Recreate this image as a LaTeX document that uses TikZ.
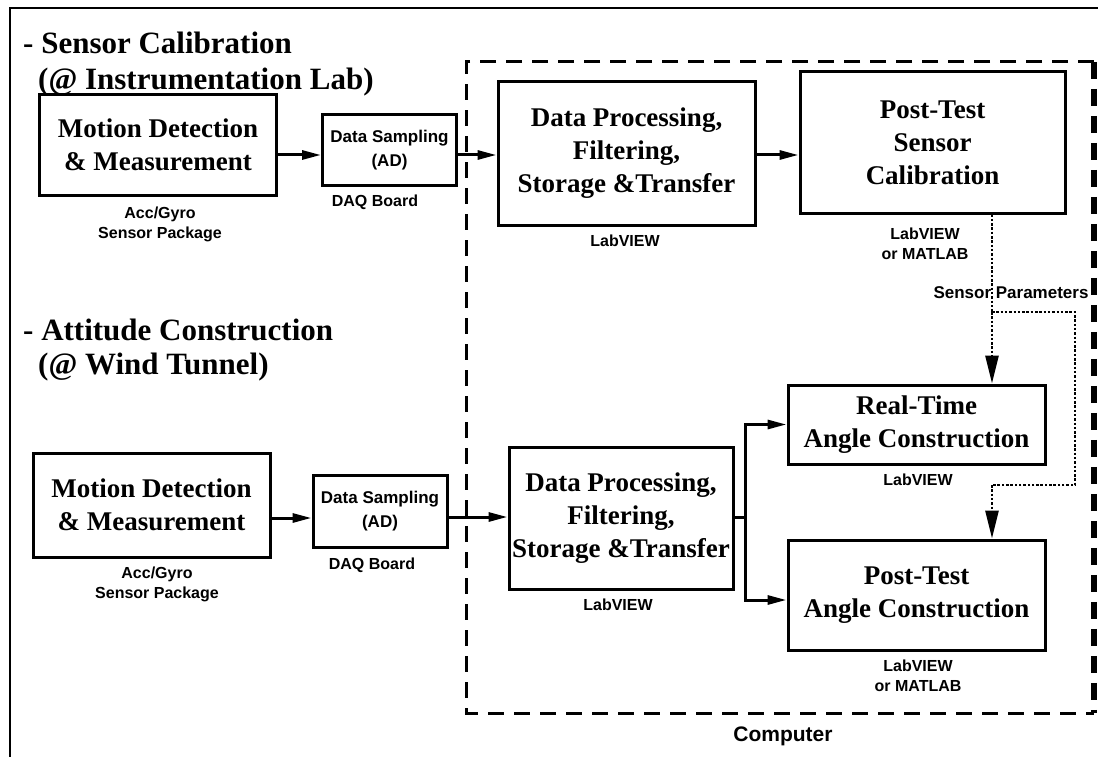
\documentclass[tikz,border=0pt]{standalone}
\usepackage{fontspec}
\setmainfont{Liberation Serif}
\newfontfamily\lsans{Liberation Sans}
\usetikzlibrary{arrows.meta}
\tikzset{
  box/.style={draw, line width=3pt, inner sep=0pt, align=center,
    font=\bfseries\fontsize{27}{33}\selectfont},
  smallbox/.style={draw, line width=3pt, inner sep=0pt, align=center,
    font=\lsans\bfseries\fontsize{17}{24}\selectfont},
  lab/.style={align=center, inner sep=0pt, font=\lsans\bfseries\fontsize{16}{20}\selectfont},
  head/.style={anchor=west, inner sep=0pt, font=\bfseries\fontsize{31}{37}\selectfont},
  flow/.style={line width=3pt, -{Triangle[length=19pt,width=9pt]}},
  param/.style={line width=2.8pt, dash pattern=on 2.5pt off 1.8pt},
  paramarr/.style={param, -{Triangle[length=28pt,width=13pt]}},
  compbox/.style={line width=3pt, dash pattern=on 16pt off 10pt},
  compedge/.style={line width=6pt, dash pattern=on 17pt off 10pt},
  frame/.style={line width=2.8pt}
}
\begin{document}
\begin{tikzpicture}[x=1pt,y=-1pt]
\useasboundingbox (0,0) rectangle (1098,757);
% outer frame (top and left)
\coordinate (ftl) at (10,8);
\coordinate (ftr) at (1098,8);
\coordinate (fbl) at (10,757);
\draw[frame] (ftr) -- (ftl) -- (fbl);

% computer area
\node[minimum width=627pt, minimum height=651pt, inner sep=0pt] (comp) at (780.5,387.5) {};
\draw[compbox] (comp.north east) -- (comp.north west) -- (comp.south west) -- (comp.south east);
\draw[compedge] (comp.north east) -- (comp.south east);
\node[lab, font=\lsans\bfseries\fontsize{21}{24}\selectfont] (complab) at (783,736) {Computer};

% headings
\node[head] (h1) at (23,43) {- Sensor Calibration};
\node[head] (h1b) at (38,82) {(@ Instrumentation Lab)};
\node[head] (h2) at (23,330) {- Attitude Construction};
\node[head] (h2b) at (38,367) {(@ Wind Tunnel)};

% top row
\node[box, minimum width=237pt, minimum height=100pt] (MD1) at (158,145) {Motion Detection\\\& Measurement};
\node[lab] (MD1l) at (160,224) {Acc/Gyro\\Sensor Package};
\node[smallbox, minimum width=134pt, minimum height=70pt] (DAQ1) at (389.5,150) {Data Sampling\\(AD)};
\node[lab] (DAQ1l) at (375,202) {DAQ Board};
\node[box, minimum width=257pt, minimum height=143pt] (DP1) at (626.5,153.5) {Data Processing,\\Filtering,\\Storage \&Transfer};
\node[lab] (DP1l) at (625,241) {LabVIEW};
\node[box, minimum width=265pt, minimum height=141pt] (PTSC) at (932.5,142.5) {Post-Test\\Sensor\\Calibration};
\node[lab] (PTSCl) at (925,244) {LabVIEW\\or MATLAB};

\draw[flow] (MD1.east |- 0,155) -- (DAQ1.west |- 0,155);
\draw[flow] (DAQ1.east |- 0,155) -- (DP1.west |- 0,155);
\draw[flow] (DP1.east |- 0,155) -- (PTSC.west |- 0,155);

% bottom row
\node[box, minimum width=237pt, minimum height=104pt] (MD2) at (151.5,505) {Motion Detection\\\& Measurement};
\node[lab] (MD2l) at (157,584) {Acc/Gyro\\Sensor Package};
\node[smallbox, minimum width=134pt, minimum height=72pt] (DAQ2) at (380,511) {Data Sampling\\(AD)};
\node[lab] (DAQ2l) at (372,565) {DAQ Board};
\node[box, minimum width=224pt, minimum height=142pt] (DP2) at (621,518) {Data Processing,\\Filtering,\\Storage \&Transfer};
\node[lab] (DP2l) at (618,605) {LabVIEW};
\node[box, minimum width=257pt, minimum height=79pt] (RT) at (916.5,424.5) {Real-Time\\Angle Construction};
\node[lab] (RTl) at (918,480) {LabVIEW};
\node[box, minimum width=257pt, minimum height=110pt] (PTAC) at (916.5,595) {Post-Test\\Angle Construction};
\node[lab] (PTACl) at (918,676) {LabVIEW\\or MATLAB};

\draw[flow] (MD2.east |- 0,518) -- (DAQ2.west |- 0,518);
\draw[flow] (DAQ2.east |- 0,517) -- (DP2.west |- 0,517);
\coordinate (jn) at (745,517);
\draw[line width=3pt] (DP2.east |- jn) -- (jn);
\draw[flow] (jn) |- (RT.west);
\draw[flow] (jn) |- (PTAC.west |- 0,600);

% sensor parameters (dotted)
\coordinate (d1) at (992,312);
\coordinate (d2) at (1075,312);
\coordinate (d3) at (1075,485);
\coordinate (d4) at (992,485);
\draw[param] (PTSC.south -| d1) -- (d1);
\draw[paramarr] (d1) -- (RT.north -| d1);
\draw[param] (d1) -- (d2) -- (d3) -- (d4);
\draw[paramarr] (d4) -- (PTAC.north -| d4);
\node[lab, font=\lsans\bfseries\fontsize{17}{20}\selectfont] (sp) at (1011,293) {Sensor Parameters};
\end{tikzpicture}
\end{document}
